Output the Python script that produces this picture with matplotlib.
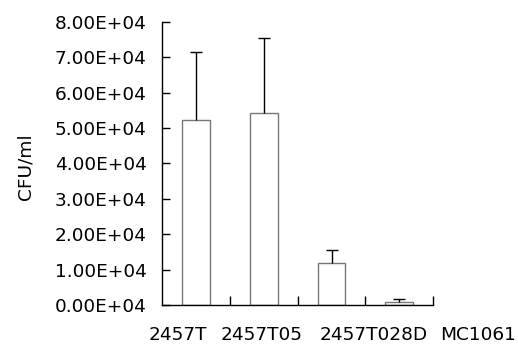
import matplotlib
matplotlib.use("Agg")
import matplotlib.pyplot as plt
import numpy as np
from matplotlib.ticker import FixedLocator

categories = ["2457T", "2457T05", "2457T028D", "MC1061"]
values = [5.22e4, 5.41e4, 1.18e4, 0.09e4]
errors = [1.93e4, 2.12e4, 0.37e4, 0.07e4]
yticks = [0, 1e4, 2e4, 3e4, 4e4, 5e4, 6e4, 7e4, 8e4]
ytick_labels = ["0.00E+04", "1.00E+04", "2.00E+04", "3.00E+04", "4.00E+04",
                "5.00E+04", "6.00E+04", "7.00E+04", "8.00E+04"]

plt.rcParams['font.family'] = ['DejaVu Sans']
FS = 13.3

fig = plt.figure(figsize=(5.18, 3.45), dpi=100)
ax = fig.add_axes([0.3127, 0.1159, 0.8365 - 0.3127, 0.937 - 0.1159])

x = np.arange(len(categories))
vals = np.array(values)
errs = np.array(errors)
ax.bar(x, vals, width=0.41, color="white", edgecolor="#777777", linewidth=1.0, zorder=2)
ax.vlines(x, vals, vals + errs, colors="black", linewidth=1.0, zorder=3)
ax.plot(x, vals + errs, ls="none", marker="_", markersize=8.6, mew=1.0, color="black", zorder=3)

ax.set_xlim(-0.5, len(categories) - 0.5)
ax.set_ylim(0, 8e4)
ax.set_yticks(yticks)
ax.set_yticklabels(ytick_labels, fontsize=FS)
ax.xaxis.set_major_locator(FixedLocator([0.5, 1.5, 2.5, 3.5]))
ax.set_xticklabels([])
ax.tick_params(axis="y", direction="in", length=6, width=1, pad=11, colors="black")
ax.tick_params(axis="x", direction="in", length=6.5, width=1)

for s in ["top", "right"]:
    ax.spines[s].set_visible(False)
for s in ["left", "bottom"]:
    ax.spines[s].set_linewidth(1.0)
    ax.spines[s].set_color("black")

label_pos = [-0.27, 0.97, 2.62, 4.16]
for cat, p in zip(categories, label_pos):
    ax.text(p, -0.125, cat, transform=ax.get_xaxis_transform(), ha="center", va="baseline",
            fontsize=FS, clip_on=False)

ax.set_ylabel("CFU/ml", fontsize=FS)
ax.yaxis.set_label_coords(-0.47, 0.49)

fig.savefig("out.png", dpi=100)
